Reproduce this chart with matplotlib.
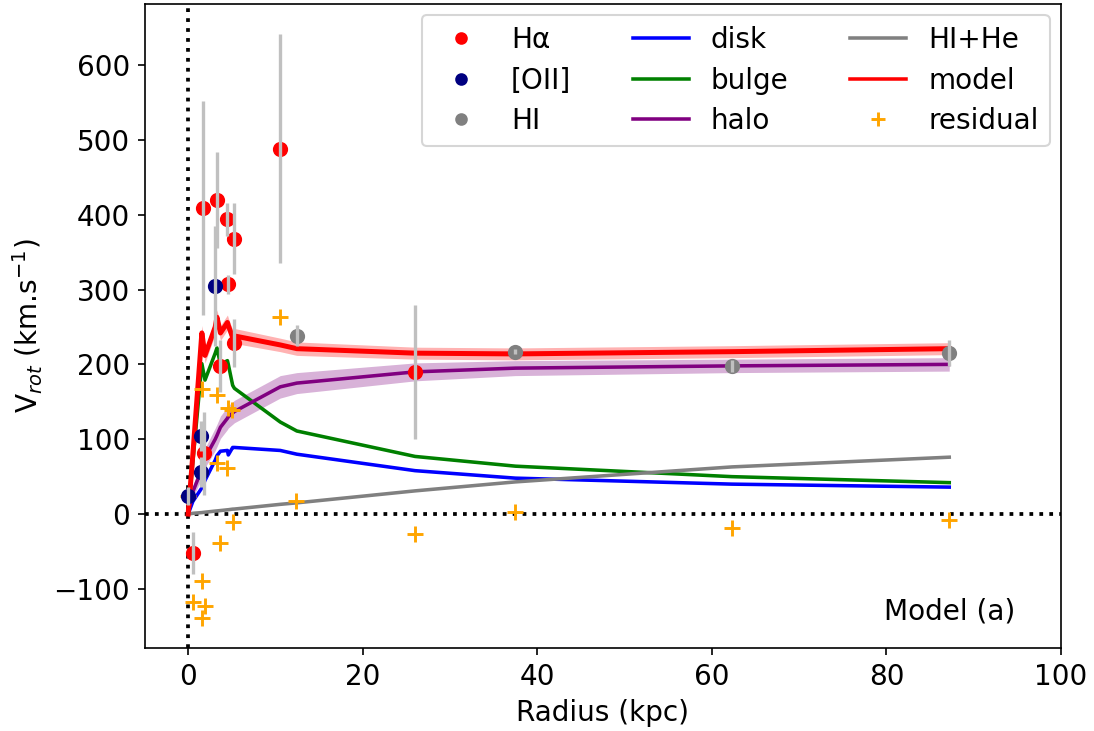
import numpy as np
import matplotlib
matplotlib.use('Agg')
import matplotlib.pyplot as plt

plt.rcParams['font.size'] = 13.4

# observed rotation velocities
ha_r = [0.54, 1.68, 1.8, 3.3, 3.7, 4.5, 4.6, 5.2, 5.3, 10.55, 26.0]
ha_v = [-52, 409, 81, 420, 198, 394, 307, 368, 229, 488, 190]
ha_err = [28, 143, 55, 64, 35, 22, 13, 47, 32, 153, 90]

oii_r = [0.0, 1.45, 1.45, 3.1]
oii_v = [24, 104, 56, 305]
oii_err = [12, 20, 20, 80]

hi_r = [12.45, 37.5, 62.3, 87.2]
hi_v = [238, 217, 198, 215]
hi_err = [14, 3, 8, 17]

# mass model components
mod_r = [0, 0.54, 1.57, 1.93, 3.1, 3.3, 3.7, 4.5, 4.6, 5.1, 5.3, 10.55, 12.45, 26.0, 37.5, 62.3, 87.2]
v_disk = [0, 17, 35, 45, 72, 78, 84, 85, 79, 89, 89, 85, 80, 58, 48, 40, 36]
v_bulge = [0, 70, 201, 179, 215, 222, 200, 205, 200, 172, 168, 123, 111, 77, 64, 50, 42]
v_halo = [0, 30, 60, 75, 100, 105, 116, 128, 130, 135, 137, 170, 175, 190, 195, 198, 200]
halo_err = [0, 8, 12, 13, 15, 15, 15, 15, 15, 15, 15, 15, 14, 12, 10, 9, 9]
v_gas = [0, 1, 2, 2.5, 4, 4.2, 4.7, 5.7, 5.8, 6.6, 6.7, 13, 15, 31, 43, 63, 76]
v_model = [0, 80, 242, 212, 250, 263, 242, 256, 252, 236, 238, 226, 221, 215, 214, 217, 221]
model_err = [0, 8, 10, 10, 10, 10, 10, 10, 10, 10, 10, 9, 9, 8, 8, 8, 8]

res_r = [0.0, 0.54, 1.57, 1.57, 1.57, 1.93, 3.28, 3.36, 3.67, 4.43, 4.6, 5.0, 5.1, 10.55, 12.4, 26.0, 37.5, 62.3, 87.2]
res_v = [24, -118, 167, -90, -139, -123, 68, 159, -39, 61, 142, 139, -10, 263, 17, -26, 3, -19, -8]

fig = plt.figure(figsize=(1094 / 150, 731 / 150), dpi=150)
ax = fig.add_axes([0.1321, 0.1135, 0.8377, 0.8815])

ax.axvline(0, color='black', ls=':', lw=1.8, zorder=1)
ax.axhline(0, color='black', ls=':', lw=1.8, zorder=1)

r = np.array(mod_r)
ax.fill_between(r, np.array(v_model) - model_err, np.array(v_model) + model_err,
                color='red', alpha=0.3, lw=0, zorder=2)
ax.fill_between(r, np.array(v_halo) - halo_err, np.array(v_halo) + halo_err,
                color='purple', alpha=0.3, lw=0, zorder=2)

ax.plot(r, v_disk, color='blue', lw=1.7, label='disk', zorder=3)
ax.plot(r, v_bulge, color='green', lw=1.7, label='bulge', zorder=3)
ax.plot(r, v_halo, color='purple', lw=1.7, label='halo', zorder=3)
ax.plot(r, v_gas, color='gray', lw=1.7, label='HI+He', zorder=3)
ax.plot(r, v_model, color='red', lw=2.4, label='model', zorder=3)

ax.plot(res_r, res_v, '+', color='orange', ms=8, mew=1.4, ls='none', label='residual', zorder=4)

ax.plot(ha_r, ha_v, 'o', color='red', ms=6.3, ls='none', label='H\u03b1', zorder=5)
ax.plot(oii_r, oii_v, 'o', color='navy', ms=6.3, ls='none', label='[OII]', zorder=5)
ax.plot(hi_r, hi_v, 'o', color='gray', ms=6.3, ls='none', label='HI', zorder=5)

for xs, ys, es in [(ha_r, ha_v, ha_err), (oii_r, oii_v, oii_err), (hi_r, hi_v, hi_err)]:
    ax.errorbar(xs, ys, yerr=es, fmt='none', ecolor='silver', elinewidth=1.6, zorder=6)

handles, labels = ax.get_legend_handles_labels()
order = ['H\u03b1', '[OII]', 'HI', 'disk', 'bulge', 'halo', 'HI+He', 'model', 'residual']
hmap = dict(zip(labels, handles))
leg = ax.legend([hmap[k] for k in order], order, ncol=3, loc='upper right',
                markerscale=0.8, handlelength=2.0, columnspacing=2.2,
                labelspacing=0.45, borderaxespad=0.4)
for line in leg.get_lines():
    if line.get_linestyle() == '-':
        line.set_linewidth(1.7)

ax.text(0.95, 0.056, 'Model (a)', transform=ax.transAxes, ha='right', va='center')

ax.set_xlim(-5, 100)
ax.set_ylim(-179, 682)
ax.set_xticks([0, 20, 40, 60, 80, 100])
ax.set_yticks([-100, 0, 100, 200, 300, 400, 500, 600])
ax.set_xlabel('Radius (kpc)')
ax.set_ylabel('V$_{rot}$ (km.s$^{-1}$)')

fig.savefig('out.png', dpi=150)
